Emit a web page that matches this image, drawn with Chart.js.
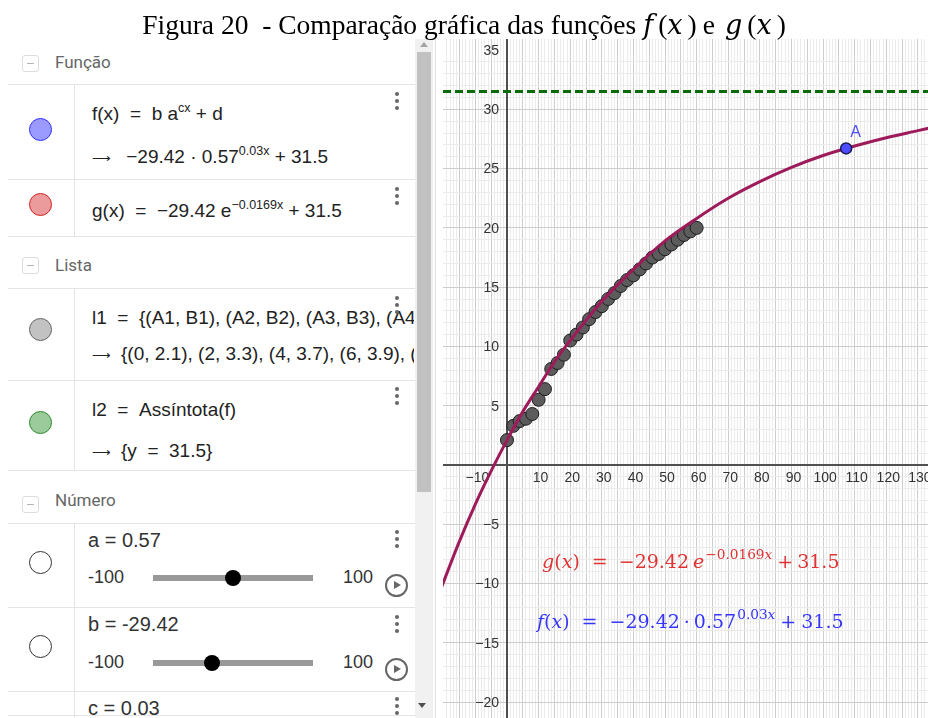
<!DOCTYPE html>
<html lang="pt">
<head>
<meta charset="utf-8">
<title>Figura 20</title>
<script src="https://cdn.jsdelivr.net/npm/chart.js@4.4.1/dist/chart.umd.min.js"></script>
<style>
  body { margin:0; width:928px; height:718px; overflow:hidden; background:#fff; position:relative; font-family:"Liberation Sans", Arial, sans-serif; color:#222; }
  .abs { position:absolute; white-space:nowrap; }
  #titulo { left:0; top:7px; width:928px; text-align:center; font-family:"Liberation Serif","Times New Roman",serif; font-size:27.5px; line-height:36px; color:#000; z-index:5; }
  #titulo i { font-family:"DejaVu Serif", serif; font-size:27px; letter-spacing:5px; }
  #titulo .e { margin:0 10px 0 6px; }
  .sec { font-family:Roboto, "Noto Sans", sans-serif; font-size:17px; color:#666; line-height:20px; }
  .ico { width:15px; height:15px; border:1px solid #ddd; border-radius:3px; }
  .ico::after { content:""; position:absolute; left:4px; top:7px; width:7px; height:1px; background:#b5b5b5; }
  .hl { height:1px; left:8px; width:407px; background:#e4e4e4; }
  .vl { width:1px; left:74px; background:#e4e4e4; }
  .bola { left:29px; width:21px; height:21px; border-radius:50%; border:1.5px solid; }
  .fx { font-size:19px; line-height:22px; color:#222; left:92px; overflow:hidden; width:322px; }
  .fx sup { font-size:12.5px; line-height:0; vertical-align:8px; }
  .seta { font-size:13px; margin-right:10px; }
  .num { font-size:20px; line-height:24px; left:88px; color:#333; }
  .lim { font-size:18px; line-height:22px; color:#333; }
  .trilho { left:153px; width:160px; height:6px; background:#999; }
  .botao { width:16px; height:16px; border-radius:50%; background:#000; }
  .play { left:385px; width:19px; height:19px; border:2px solid #666; border-radius:50%; }
  .play::after { content:""; position:absolute; left:7px; top:5px; border-left:7px solid #666; border-top:4.5px solid transparent; border-bottom:4.5px solid transparent; }
  .pts { left:395px; width:4px; }
  .pts span { display:block; width:4px; height:4px; border-radius:50%; background:#666; margin-bottom:3px; }
  #grafico-caixa { position:absolute; left:443px; top:39px; width:485px; height:679px; }
</style>
</head>
<body>
<div id="titulo" class="abs">Figura 20&nbsp; - Comparação gráfica das funções <i>f</i>(<i>x</i>)<span class="e">e</span><i>g</i>(<i>x</i>)</div>

<!-- janela de álgebra -->
<div class="abs ico" style="left:22px;top:55px"></div><div class="abs sec" style="left:55px;top:52px">Função</div>
<div class="abs hl" style="top:84px"></div>
<div class="abs vl" style="top:84px;height:152px"></div>
<div class="abs bola" style="top:118px;background:#9b9bff;border-color:#3333ff"></div>
<div class="abs fx" style="top:103px">f(x) &nbsp;= &nbsp;b a<sup>cx</sup> + d</div>
<div class="abs fx" style="top:146px"><span class="seta">⟶</span> −29.42 · 0.57<sup>0.03x</sup> + 31.5</div>
<div class="abs pts" style="top:92px"><span></span><span></span><span></span></div>
<div class="abs hl" style="top:179px"></div>
<div class="abs bola" style="top:193px;background:#eb9b9b;border-color:#d42424"></div>
<div class="abs fx" style="top:200px">g(x) &nbsp;= &nbsp;−29.42 e<sup>−0.0169x</sup> + 31.5</div>
<div class="abs pts" style="top:187px"><span></span><span></span><span></span></div>
<div class="abs hl" style="top:236px"></div>

<div class="abs ico" style="left:22px;top:257px"></div><div class="abs sec" style="left:55px;top:255px">Lista</div>
<div class="abs hl" style="top:288px"></div>
<div class="abs vl" style="top:288px;height:182px"></div>
<div class="abs bola" style="top:318px;background:#c2c2c2;border-color:#666"></div>
<div class="abs fx" style="top:307px">l1 &nbsp;= &nbsp;{(A1, B1), (A2, B2), (A3, B3), (A4, B4), (A5, B5)}</div>
<div class="abs fx" style="top:343px"><span class="seta">⟶</span>{(0, 2.1), (2, 3.3), (4, 3.7), (6, 3.9), (8, 4.3)}</div>
<div class="abs pts" style="top:296px"><span></span><span></span><span></span></div>
<div class="abs hl" style="top:380px"></div>
<div class="abs bola" style="top:411px;background:#9bcb9b;border-color:#2e8b2e"></div>
<div class="abs fx" style="top:399px">l2 &nbsp;= &nbsp;Assíntota(f)</div>
<div class="abs fx" style="top:440px"><span class="seta">⟶</span>{y &nbsp;= &nbsp;31.5}</div>
<div class="abs pts" style="top:387px"><span></span><span></span><span></span></div>
<div class="abs hl" style="top:470px"></div>

<div class="abs ico" style="left:22px;top:496px"></div><div class="abs sec" style="left:55px;top:490px">Número</div>
<div class="abs hl" style="top:523px"></div>
<div class="abs vl" style="top:523px;height:195px"></div>
<div class="abs bola" style="top:551px;background:#fff;border-color:#333"></div>
<div class="abs num" style="top:528px">a = 0.57</div>
<div class="abs lim" style="left:88px;top:566px">-100</div>
<div class="abs trilho" style="top:575px"></div>
<div class="abs botao" style="left:225px;top:570px"></div>
<div class="abs lim" style="left:343px;top:566px">100</div>
<div class="abs play" style="top:574px"></div>
<div class="abs pts" style="top:530px"><span></span><span></span><span></span></div>
<div class="abs hl" style="top:607px"></div>
<div class="abs bola" style="top:635px;background:#fff;border-color:#333"></div>
<div class="abs num" style="top:612px">b = -29.42</div>
<div class="abs lim" style="left:88px;top:651px">-100</div>
<div class="abs trilho" style="top:660px"></div>
<div class="abs botao" style="left:204px;top:655px"></div>
<div class="abs lim" style="left:343px;top:651px">100</div>
<div class="abs play" style="top:658px"></div>
<div class="abs pts" style="top:615px"><span></span><span></span><span></span></div>
<div class="abs hl" style="top:691px"></div>
<div class="abs num" style="top:696px">c = 0.03</div>
<div class="abs pts" style="top:697px"><span></span><span></span><span></span></div>
<div class="abs hl" style="top:715px"></div>

<!-- barra de rolagem -->
<div class="abs" style="left:415px;top:39px;width:18px;height:679px;background:#f1f1f1"></div>
<div class="abs" style="left:417px;top:52px;width:14px;height:440px;background:#c1c1c1"></div>
<div class="abs" style="left:420px;top:42px;width:0;height:0;border-left:4px solid transparent;border-right:4px solid transparent;border-bottom:5px solid #a3a3a3"></div>
<div class="abs" style="left:418px;top:703px;width:0;height:0;border-left:4px solid transparent;border-right:4px solid transparent;border-top:5px solid #505050"></div>
<div class="abs" style="left:435px;top:39px;width:1px;height:679px;background:#e2e2e2"></div>

<div id="grafico-caixa"><canvas id="grafico" width="485" height="679"></canvas></div>

<script>
// l1: pontos da tabela (A, B)
const l1X = [0, 2, 4, 6, 8, 10, 12, 14, 16, 18, 20, 22, 24, 26, 28, 30, 32, 34, 36, 38, 40, 42, 44, 46, 48, 50, 52, 54, 56, 58, 60];
const l1Y = [2.1, 3.3, 3.7, 3.9, 4.3, 5.5, 6.4, 8.1, 8.6, 9.3, 10.5, 11.0, 11.6, 12.3, 12.9, 13.4, 14.0, 14.5, 15.1, 15.6, 16.0, 16.5, 17.0, 17.5, 17.8, 18.2, 18.6, 19.0, 19.4, 19.7, 20.0];

// curva f = g
const curvaX = [-21, -15, -10, -5, 0, 5, 10, 15, 20, 25, 30, 40, 50, 60, 70, 80, 90, 100, 110, 120, 130, 135];
const curvaY = [-10.5, -6.4, -3.3, -0.5, 2.1, 4.5, 6.6, 8.7, 10.5, 12.2, 13.8, 16.5, 18.9, 20.8, 22.5, 23.9, 25.1, 26.1, 26.9, 27.6, 28.2, 28.5];

// assintota l2 e ponto A
const assintotaY = 31.5;
const pontoAX = [107.3];
const pontoAY = [26.7];

// rotulos dos eixos
const xTicks = [-10, 10, 20, 30, 40, 50, 60, 70, 80, 90, 100, 110, 120, 130];
const yTicks = [35, 30, 25, 20, 15, 10, 5, -5, -10, -15, -20];

const xMin = -20.25, xMax = 133.2;
const yMin = -21.34, yMax = 35.93;

function fmt(v) { return v < 0 ? '\u2212' + Math.abs(v) : String(v); }

function corGrade(c) {
  const v = c.tick.value;
  if (Math.abs(v - Math.round(v)) > 1e-6) return 'rgba(0,0,0,0)';
  return Math.round(v) % 5 === 0 ? '#cdcdcd' : '#ebebeb';
}

// texto matematico: cada parte com recuo dx, italico ou expoente
function escreveFormula(c, partes, x, y, tam, cor) {
  c.fillStyle = cor;
  c.textAlign = 'left';
  c.textBaseline = 'alphabetic';
  partes.forEach(p => {
    x += p.dx || 0;
    const s = p.sup ? tam * 0.72 : tam;
    c.font = (p.it ? 'italic ' : '') + s + 'px "DejaVu Serif", serif';
    c.fillText(p.t, x, p.sup ? y - tam * 0.5 : y);
    x += c.measureText(p.t).width;
  });
}

const eixos = {
  id: 'eixos',
  beforeDatasetsDraw(chart) {
    const c = chart.ctx, sx = chart.scales.x, sy = chart.scales.y, a = chart.chartArea;
    const x0 = Math.round(sx.getPixelForValue(0)), y0 = Math.round(sy.getPixelForValue(0));
    c.save();
    c.strokeStyle = '#505050';
    c.lineWidth = 2;
    c.beginPath();
    c.moveTo(a.left, y0); c.lineTo(a.right, y0);
    c.moveTo(x0, a.top); c.lineTo(x0, a.bottom);
    c.stroke();
    c.font = '14px "Liberation Sans", Arial, sans-serif';
    c.fillStyle = '#333';
    c.textAlign = 'right';
    c.textBaseline = 'middle';
    yTicks.forEach(v => c.fillText(fmt(v), x0 - 8, sy.getPixelForValue(v) + 1));
    c.textAlign = 'center';
    xTicks.forEach(v => c.fillText(fmt(v), sx.getPixelForValue(v) + 2, y0 + 13));
    c.restore();
  },
  afterDatasetsDraw(chart) {
    const c = chart.ctx, sx = chart.scales.x, sy = chart.scales.y;
    c.save();
    c.font = '16px "Liberation Sans", Arial, sans-serif';
    c.fillStyle = '#5050ff';
    c.textAlign = 'left';
    c.textBaseline = 'alphabetic';
    c.fillText('A', sx.getPixelForValue(pontoAX[0]) + 4, sy.getPixelForValue(pontoAY[0]) - 11);

    escreveFormula(c, [
      {t: 'g', it: true}, {t: '('}, {t: 'x', it: true}, {t: ')'},
      {t: '=', dx: 12}, {t: '\u221229.42', dx: 11},
      {t: 'e', it: true, dx: 4}, {t: '\u22120.0169', sup: true, dx: 1}, {t: 'x', it: true, sup: true},
      {t: '+', dx: 5}, {t: '31.5', dx: 4}
    ], sx.getPixelForValue(11.1), sy.getPixelForValue(-8.69), 19, '#e03333');
    escreveFormula(c, [
      {t: 'f', it: true}, {t: '('}, {t: 'x', it: true}, {t: ')'},
      {t: '=', dx: 12}, {t: '\u221229.42', dx: 12}, {t: '\u00b7', dx: 4}, {t: '0.57', dx: 4},
      {t: '0.03', sup: true, dx: 1}, {t: 'x', it: true, sup: true},
      {t: '+', dx: 5}, {t: '31.5', dx: 5}
    ], sx.getPixelForValue(9.5), sy.getPixelForValue(-13.75), 19, '#3535ff');
    c.restore();
  }
};

new Chart(document.getElementById('grafico'), {
  type: 'scatter',
  data: {
    datasets: [
      {
        label: 'A',
        data: pontoAX.map((x, i) => ({x: x, y: pontoAY[i]})),
        pointRadius: 5.5,
        backgroundColor: '#4d4dff',
        borderColor: '#1a1a55',
        borderWidth: 1.5,
        order: 0
      },
      {
        label: 'f, g',
        type: 'line',
        data: curvaX.map((x, i) => ({x: x, y: curvaY[i]})),
        borderColor: '#9e1b5b',
        borderWidth: 3,
        pointRadius: 0,
        cubicInterpolationMode: 'monotone',
        fill: false,
        order: 1
      },
      {
        label: 'l1',
        data: l1X.map((x, i) => ({x: x, y: l1Y[i]})),
        pointRadius: 6.5,
        backgroundColor: '#5c5c5c',
        borderColor: '#1e1e1e',
        borderWidth: 1,
        order: 2
      },
      {
        label: 'l2',
        type: 'line',
        data: [{x: xMin, y: assintotaY}, {x: xMax, y: assintotaY}],
        borderColor: '#0b6b0b',
        borderWidth: 3,
        borderDash: [8, 4],
        pointRadius: 0,
        fill: false,
        order: 3
      }
    ]
  },
  options: {
    responsive: false,
    animation: false,
    devicePixelRatio: 1,
    events: [],
    layout: { padding: 0, autoPadding: false },
    plugins: { legend: { display: false }, tooltip: { enabled: false } },
    scales: {
      x: {
        type: 'linear', min: xMin, max: xMax,
        ticks: { display: false, stepSize: 1, autoSkip: false },
        grid: { color: corGrade, drawTicks: false },
        border: { display: false }
      },
      y: {
        type: 'linear', min: yMin, max: yMax,
        ticks: { display: false, stepSize: 1, autoSkip: false },
        grid: { color: corGrade, drawTicks: false },
        border: { display: false }
      }
    }
  },
  plugins: [eixos]
});
</script>
</body>
</html>
